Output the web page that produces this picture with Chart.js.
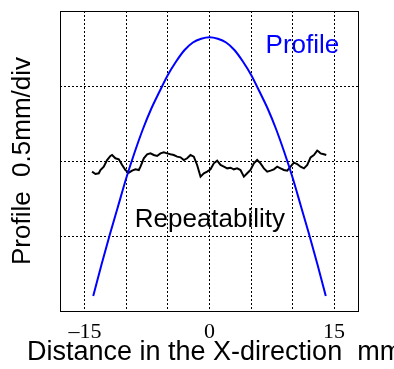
<!DOCTYPE html>
<html>
<head>
<meta charset="utf-8">
<script src="https://cdn.jsdelivr.net/npm/chart.js@4/dist/chart.umd.min.js"></script>
<style>
html,body{margin:0;padding:0;background:#fff;overflow:hidden;}
#wrap{width:394px;height:369px;}
</style>
</head>
<body>
<div id="wrap"><canvas id="c" width="394" height="369"></canvas></div>
<script>
// Distance in the X-direction (mm)
const profileX = [-14,-13,-12,-11,-10,-9,-8,-7,-6,-5,-4,-3,-2,-1,0,1,2,3,4,5,6,7,8,9,10,11,12,13,14];
// Profile in divisions (0.5 mm/div)
const profileY = [0.20,0.62,1.02,1.40,1.78,2.12,2.43,2.70,2.93,3.15,3.33,3.48,3.58,3.63,3.65,3.63,3.58,3.48,3.33,3.15,2.93,2.70,2.43,2.12,1.78,1.40,1.02,0.62,0.20];

const repX = [-14.14,-13.73,-13.33,-13.13,-12.73,-12.33,-11.93,-11.73,-11.33,-10.92,-10.52,-10.12,-9.72,-9.32,-8.92,-8.51,-8.31,-7.91,-7.51,-7.11,-6.71,-6.31,-5.90,-5.50,-5.10,-4.70,-4.30,-3.90,-3.49,-3.09,-2.69,-2.29,-1.89,-1.49,-1.08,-0.68,-0.28,0.12,0.52,0.92,1.33,1.73,2.13,2.53,2.93,3.33,3.73,4.14,4.54,4.94,5.34,5.74,6.14,6.55,6.95,7.35,7.75,8.15,8.55,8.96,9.36,9.76,10.16,10.56,10.96,11.37,11.77,12.17,12.57,12.97,13.17,13.37,13.77,14.06];
const repY = [1.858,1.827,1.836,1.880,1.924,2.013,2.067,2.080,2.036,2.022,1.947,1.880,1.844,1.871,1.889,1.880,1.924,2.036,2.089,2.102,2.080,2.067,2.102,2.116,2.102,2.089,2.080,2.058,2.049,2.013,2.036,2.080,2.058,1.947,1.791,1.836,1.858,1.889,1.969,2.004,1.947,1.924,1.902,1.911,1.889,1.902,1.880,1.791,1.836,1.880,1.969,2.013,1.969,1.902,1.858,1.871,1.889,1.924,1.902,1.880,1.871,1.924,1.978,1.960,1.924,1.902,1.947,2.049,2.080,2.138,2.124,2.102,2.089,2.080];

const xTicks = [-15,-10,-5,0,5,10,15];
const xTickLabels = {"-15":"–15","0":"0","15":"15"};
const yTicks = [0,1,2,3,4];
const xTitle = 'Distance in the X-direction  mm';

const labelsPlugin = {
  id:'labels',
  afterDraw(chart){
    const ctx = chart.ctx, a = chart.chartArea;
    const xs = chart.scales.x, ys = chart.scales.y;
    ctx.save();
    ctx.setLineDash([]);
    ctx.strokeStyle = '#000';
    ctx.lineWidth = 1;
    ctx.strokeRect(a.left+0.5, a.top+0.5, a.right-a.left-1, a.bottom-a.top);
    ctx.font = '26px "Liberation Sans", Arial, sans-serif';
    ctx.textAlign = 'left';
    ctx.textBaseline = 'alphabetic';
    ctx.fillStyle = '#0000ff';
    ctx.fillText('Profile', xs.getPixelForValue(6.75), ys.getPixelForValue(3.44));
    ctx.fillStyle = '#000';
    ctx.fillText('Repeatability', xs.getPixelForValue(-9.0), ys.getPixelForValue(1.12));
    // x-axis title (allowed to overflow the chart area like the original)
    ctx.font = '27px "Liberation Sans", Arial, sans-serif';
    ctx.fillText(xTitle, 27, a.bottom + 49);
    ctx.restore();
  }
};

new Chart(document.getElementById('c'), {
  type: 'scatter',
  data: {
    datasets: [
      {
        label: 'Profile',
        data: profileX.map((x,i)=>({x:x, y:profileY[i]})),
        showLine: true,
        borderColor: '#0000ff',
        borderWidth: 2,
        pointRadius: 0,
        cubicInterpolationMode: 'monotone',
        fill: false
      },
      {
        label: 'Repeatability',
        data: repX.map((x,i)=>({x:x, y:repY[i]})),
        showLine: true,
        borderColor: '#000',
        borderWidth: 2,
        pointRadius: 0,
        tension: 0,
        fill: false
      }
    ]
  },
  options: {
    responsive: false,
    animation: false,
    devicePixelRatio: 1,
    layout: { padding: { top: 11, right: 35, left: 0, bottom: 0 } },
    plugins: { legend: { display: false }, tooltip: { enabled: false } },
    scales: {
      x: {
        type: 'linear',
        min: -18, max: 18,
        afterBuildTicks(s){ s.ticks = xTicks.map(v=>({value:v})); },
        afterFit(s){ s.height = 58; },
        grid: { color: '#000', lineWidth: 1, drawTicks: false },
        border: { display: false, dash: [2,2] },
        ticks: {
          autoSkip: false, maxRotation: 0, padding: 8,
          color: '#000',
          font: { family: '"Liberation Serif", "Times New Roman", serif', size: 22 },
          callback: (v)=> (xTickLabels[String(v)] !== undefined ? xTickLabels[String(v)] : '')
        },
        title: { display: false }
      },
      y: {
        type: 'linear',
        min: 0, max: 4,
        afterBuildTicks(s){ s.ticks = yTicks.map(v=>({value:v})); },
        afterFit(s){ s.width = 60; },
        grid: { color: '#000', lineWidth: 1, drawTicks: false },
        border: { display: false, dash: [2,2] },
        ticks: { display: false },
        title: {
          display: true,
          text: 'Profile  0.5mm/div',
          color: '#000',
          font: { family: '"Liberation Sans", Arial, sans-serif', size: 26 },
          padding: { top: 7, bottom: 0 }
        }
      }
    }
  },
  plugins: [labelsPlugin]
});
</script>
</body>
</html>
